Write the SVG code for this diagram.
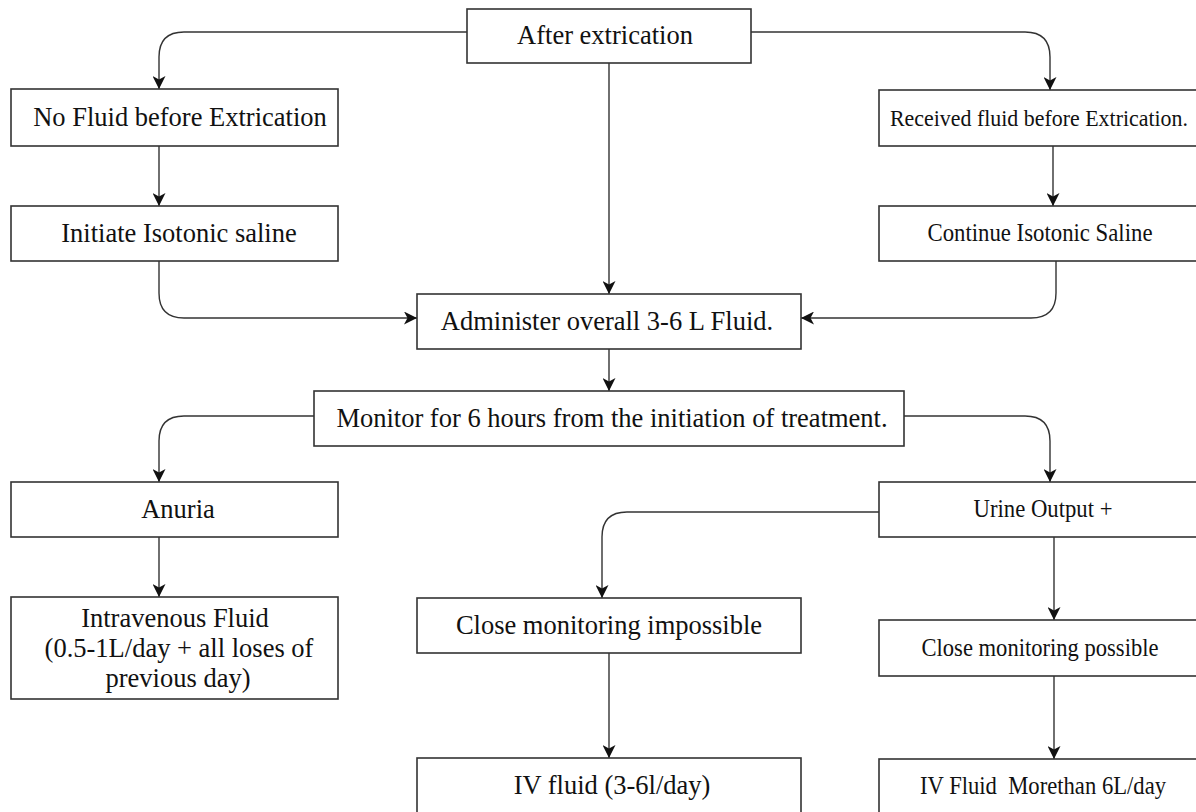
<svg xmlns="http://www.w3.org/2000/svg" width="1196" height="812" viewBox="0 0 1196 812">
<style>
.box{fill:#ffffff;stroke:#333333;stroke-width:1.6}
.t{font-family:"Liberation Serif","Times New Roman",serif;font-size:26.5px;fill:#111111;text-anchor:middle}
.s{font-size:25.5px}
.c{fill:none;stroke:#333333;stroke-width:1.4}
</style>
<defs>
<marker id="ah" markerUnits="userSpaceOnUse" markerWidth="15" markerHeight="13" refX="13" refY="6.5" orient="auto">
<path d="M0,0 L13,6.5 L0,13 L3.5,6.5 Z" fill="#111111"/>
</marker>
</defs>
<rect width="1196" height="812" fill="#ffffff"/>
<g id="connectors">
<path class="c" marker-end="url(#ah)" d="M467,32 H184 Q159,32 159,57 V89"/>
<path class="c" marker-end="url(#ah)" d="M751,32 H1025 Q1050,32 1050,57 V90"/>
<path class="c" marker-end="url(#ah)" d="M609,63 V294"/>
<path class="c" marker-end="url(#ah)" d="M159,146 V206"/>
<path class="c" marker-end="url(#ah)" d="M1053,146 V206"/>
<path class="c" marker-end="url(#ah)" d="M159,261 V293 Q159,318 184,318 H417"/>
<path class="c" marker-end="url(#ah)" d="M1056,261 V293 Q1056,318 1031,318 H801"/>
<path class="c" marker-end="url(#ah)" d="M609,349 V391"/>
<path class="c" marker-end="url(#ah)" d="M314,416 H184 Q159,416 159,441 V482"/>
<path class="c" marker-end="url(#ah)" d="M904,416 H1025 Q1050,416 1050,441 V482"/>
<path class="c" marker-end="url(#ah)" d="M159,537 V597"/>
<path class="c" marker-end="url(#ah)" d="M879,512 H627 Q602,512 602,537 V598"/>
<path class="c" marker-end="url(#ah)" d="M609,653 V758"/>
<path class="c" marker-end="url(#ah)" d="M1054,537 V620"/>
<path class="c" marker-end="url(#ah)" d="M1054,676 V759"/>
</g>
<g id="n-after">
<rect class="box" x="467" y="9" width="284" height="54"/>
<text class="t" x="605" y="44">After extrication</text>
</g>
<g id="n-nofluid">
<rect class="box" x="11" y="89" width="327" height="57"/>
<text class="t" x="180" y="126">No Fluid before Extrication</text>
</g>
<g id="n-received">
<rect class="box" x="879" y="90" width="320" height="56"/>
<text class="t" x="1039" y="126" style="font-size:22.5px" textLength="298" lengthAdjust="spacingAndGlyphs">Received fluid before Extrication.</text>
</g>
<g id="n-initiate">
<rect class="box" x="11" y="206" width="327" height="55"/>
<text class="t" x="179" y="242">Initiate Isotonic saline</text>
</g>
<g id="n-continue">
<rect class="box" x="879" y="206" width="320" height="55"/>
<text class="t s" x="1040" y="241" textLength="225" lengthAdjust="spacingAndGlyphs">Continue Isotonic Saline</text>
</g>
<g id="n-administer">
<rect class="box" x="417" y="294" width="384" height="55"/>
<text class="t" x="607" y="330">Administer overall 3-6 L Fluid.</text>
</g>
<g id="n-monitor">
<rect class="box" x="314" y="391" width="590" height="55"/>
<text class="t" x="612" y="427">Monitor for 6 hours from the initiation of treatment.</text>
</g>
<g id="n-anuria">
<rect class="box" x="11" y="482" width="327" height="55"/>
<text class="t" x="178" y="518">Anuria</text>
</g>
<g id="n-urine">
<rect class="box" x="879" y="482" width="320" height="55"/>
<text class="t s" x="1043" y="517" textLength="139" lengthAdjust="spacingAndGlyphs">Urine Output +</text>
</g>
<g id="n-intravenous">
<rect class="box" x="11" y="597" width="327" height="102"/>
<text class="t" x="175" y="627">Intravenous Fluid</text>
<text class="t" x="179" y="657">(0.5-1L/day + all loses of</text>
<text class="t" x="178" y="687">previous day)</text>
</g>
<g id="n-impossible">
<rect class="box" x="417" y="598" width="384" height="55"/>
<text class="t" x="609" y="634">Close monitoring impossible</text>
</g>
<g id="n-possible">
<rect class="box" x="879" y="620" width="320" height="56"/>
<text class="t s" x="1040" y="656" textLength="237" lengthAdjust="spacingAndGlyphs">Close monitoring possible</text>
</g>
<g id="n-ivfluid">
<rect class="box" x="417" y="758" width="384" height="56"/>
<text class="t" x="612" y="794">IV fluid (3-6l/day)</text>
</g>
<g id="n-ivmore">
<rect class="box" x="879" y="759" width="320" height="56"/>
<text class="t s" x="1043" y="794" textLength="246" lengthAdjust="spacingAndGlyphs" style="white-space:pre">IV Fluid  Morethan 6L/day</text>
</g>
</svg>
